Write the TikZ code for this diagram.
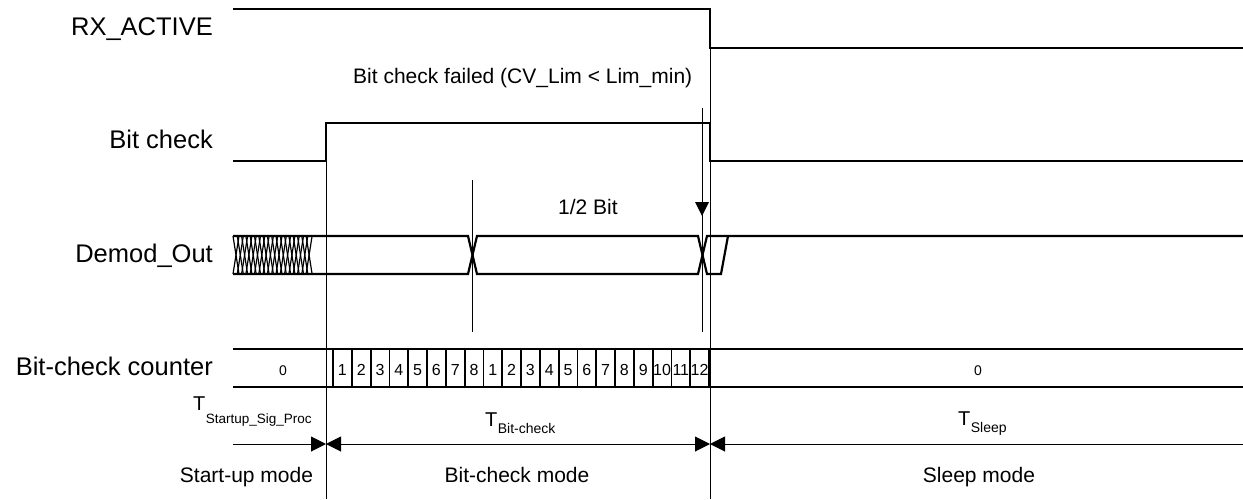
\documentclass[tikz,border=0pt]{standalone}
\usepackage{fontspec}
\setmainfont{Liberation Sans}
\usetikzlibrary{arrows.meta}
\begin{document}
\begin{tikzpicture}[x=1pt,y=-1pt,
  sig/.style={line width=2.2pt},
  thinline/.style={line width=1pt},
  cellline/.style={line width=1.8pt},
  hatch/.style={line width=1.2pt},
  lbl/.style={inner sep=0pt, font=\fontsize{25.5}{30}\selectfont, anchor=base east},
  txt/.style={inner sep=0pt, font=\fontsize{21}{25}\selectfont, anchor=base},
  dig/.style={inner sep=0pt, font=\fontsize{16}{19}\selectfont, anchor=base},
  zero/.style={inner sep=0pt, font=\fontsize{14}{17}\selectfont, anchor=base},
  tbig/.style={inner sep=0pt, font=\fontsize{20}{24}\selectfont, anchor=base west},
  tsub/.style={inner sep=0pt, font=\fontsize{14}{17}\selectfont, anchor=base west},
  tsubs/.style={inner sep=0pt, font=\fontsize{13.5}{16}\selectfont, anchor=base west},
  dimtip/.tip={Triangle[length=15pt,width=15pt]}
]
\useasboundingbox (0,0) rectangle (1243,499);

% labels
\node[lbl] (lrx) at (213,35) {RX\_ACTIVE};
\node[lbl] (lbc) at (213,148) {Bit check};
\node[lbl] (ldm) at (213,262) {Demod\_Out};
\node[lbl] (lcn) at (213,375) {Bit-check counter};

% RX_ACTIVE
\draw[sig] (233,9) -- (710,9) -- (710,48) -- (1243,48);
% Bit check
\draw[sig] (233,161) -- (326,161) -- (326,123) -- (710,123) -- (710,161) -- (1243,161);

% thin reference lines
\draw[thinline] (326,161) -- (326,499);
\draw[thinline] (710,48) -- (710,499);
\draw[thinline] (472,180) -- (472,332);
\draw[thinline] (702,108) -- (702,332);
\fill (695,202) -- (709,202) -- (702,216) -- cycle;

\node[txt, anchor=base west] (fail) at (353,83) {Bit check failed (CV\_Lim < Lim\_min)};
\node[txt, anchor=base west] (half) at (558,214) {1/2 Bit};

% Demod_Out
\draw[sig] (233,236) -- (468,236) -- (477,274) -- (698,274) -- (707,236) -- (1243,236);
\draw[sig] (233,274) -- (468,274) -- (477,236) -- (698,236) -- (707,274) -- (721,274) -- (728,236);
\foreach \i in {0,...,17} {
  \draw[hatch] (233+4.3*\i,236) -- (239+4.3*\i,274);
  \draw[hatch] (233+4.3*\i,274) -- (239+4.3*\i,236);
}

% counter
\draw[sig] (233,349) -- (1243,349);
\draw[sig] (233,387) -- (1243,387);
\foreach \k in {0,...,20} \draw[cellline] (333+18.8*\k,349) -- (333+18.8*\k,387);
\foreach \d [count=\k from 0] in {1,2,3,4,5,6,7,8,1,2,3,4,5,6,7,8,9,10,11,12}
  \node[dig] (c\k) at (342.4+18.8*\k,375) {\d};
\node[zero] (z1) at (283,375) {0};
\node[zero] (z2) at (978,375) {0};

% timing labels
\node[tbig] (t1) at (193,410) {T};
\node[tsubs] (t1s) at ([yshift=-13pt]t1.base east) {Startup\_Sig\_Proc};
\node[tbig] (t2) at (485,426) {T};
\node[tsub] (t2s) at ([yshift=-7pt]t2.base east) {Bit-check};
\node[tbig] (t3) at (958,425) {T};
\node[tsub] (t3s) at ([yshift=-7pt]t3.base east) {Sleep};

% dimension arrows
\coordinate (dL) at (233,444);
\coordinate (d1) at (326,444);
\coordinate (d2) at (710,444);
\coordinate (dR) at (1243,444);
\draw[thinline,-dimtip] (dL) -- (d1);
\draw[thinline,dimtip-dimtip] (d1) -- (d2);
\draw[thinline,dimtip-] (d2) -- (dR);

% modes
\node[txt] (m1) at (246.5,482) {Start-up mode};
\node[txt] (m2) at (517,482) {Bit-check mode};
\node[txt] (m3) at (979,482) {Sleep mode};
\end{tikzpicture}
\end{document}
